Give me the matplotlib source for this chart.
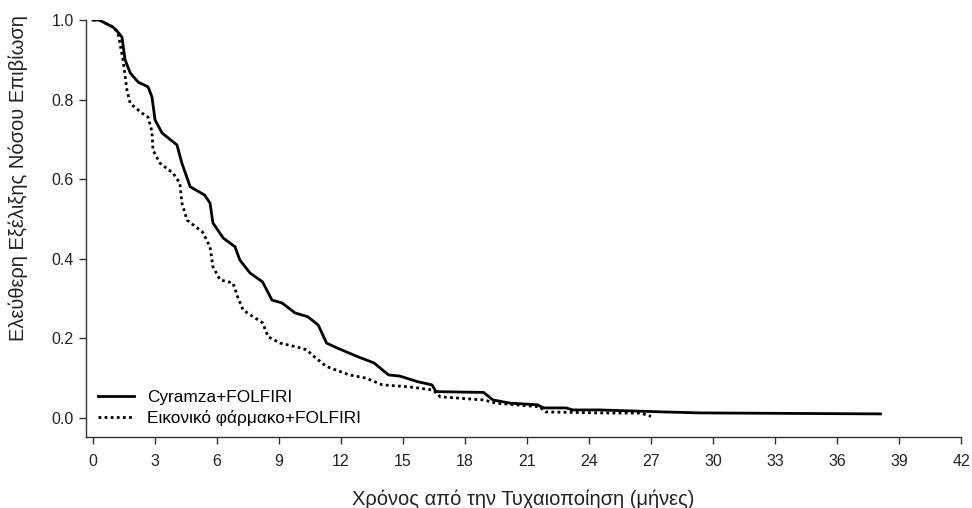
import matplotlib
matplotlib.use('Agg')
import matplotlib.pyplot as plt

plt.rcParams['font.family'] = ['Liberation Sans', 'DejaVu Sans']

# Kaplan-Meier curves (months, survival proportion)
CYR_T = [0, 0.3, 0.97, 1.2, 1.4, 1.55, 1.8, 2.18, 2.66, 2.85, 3.0, 3.34, 4.06, 4.3,
         4.7, 5.4, 5.66, 5.8, 6.3, 6.87, 7.1, 7.6, 8.2, 8.66, 9.14, 9.77, 10.4,
         10.9, 11.3, 11.8, 12.8, 13.6, 14.3, 14.85, 15.7, 16.4, 16.6, 18.9, 19.35,
         20.2, 21.5, 21.8, 22.9, 23.2, 24.5, 27.6, 29.4, 38.1]
CYR_S = [1.0, 1.0, 0.982, 0.97, 0.957, 0.90, 0.867, 0.844, 0.832, 0.807, 0.749,
         0.716, 0.686, 0.64, 0.581, 0.56, 0.54, 0.49, 0.452, 0.43, 0.397, 0.364,
         0.342, 0.296, 0.289, 0.264, 0.254, 0.233, 0.188, 0.176, 0.154, 0.138,
         0.108, 0.105, 0.091, 0.083, 0.066, 0.064, 0.045, 0.037, 0.033, 0.025,
         0.025, 0.02, 0.02, 0.015, 0.0125, 0.01]

PBO_T = [0, 0.3, 0.97, 1.2, 1.45, 1.64, 1.8, 2.37, 2.66, 2.85, 2.9, 3.24, 3.87, 4.2,
         4.3, 4.55, 5.3, 5.66, 5.8, 6.14, 6.77, 7.0, 7.26, 8.2, 8.47, 9.05, 9.87,
         10.35, 10.6, 11.3, 12.4, 13.2, 14.0, 15.3, 16.45, 16.8, 18.9, 19.5, 21.6,
         21.9, 24.5, 26.5, 27.0]
PBO_S = [1.0, 1.0, 0.982, 0.97, 0.90, 0.824, 0.79, 0.766, 0.756, 0.72, 0.673,
         0.64, 0.615, 0.59, 0.54, 0.497, 0.467, 0.43, 0.38, 0.347, 0.339, 0.304,
         0.271, 0.239, 0.204, 0.188, 0.178, 0.171, 0.158, 0.129, 0.108, 0.10,
         0.083, 0.078, 0.07, 0.053, 0.045, 0.037, 0.028, 0.015, 0.0125, 0.012,
         0.004]

LABELS = ['Cyramza+FOLFIRI', 'Εικονικό φάρμακο+FOLFIRI']
X_TICKS = list(range(0, 43, 3))
Y_TICKS = [0.0, 0.2, 0.4, 0.6, 0.8, 1.0]

fig = plt.figure(figsize=(9.72, 5.08), dpi=100)
ax = fig.add_axes([0.0885, 0.1398, 0.9002, 0.8208])

ax.plot(PBO_T, PBO_S, color='black', lw=2.0, linestyle=(0, (1, 1.2)),
        dash_capstyle='butt', label=LABELS[1], zorder=2)
ax.plot(CYR_T, CYR_S, color='black', lw=2.0, solid_joinstyle='round',
        label=LABELS[0], zorder=3)

ax.set_xlim(-0.34, 42)
ax.set_ylim(-0.048, 1.0)
ax.set_xticks(X_TICKS)
ax.set_yticks(Y_TICKS)
ax.set_yticklabels([f'{v:.1f}' for v in Y_TICKS])
for s in ['top', 'right']:
    ax.spines[s].set_visible(False)
for s in ['left', 'bottom']:
    ax.spines[s].set_linewidth(1.0)
    ax.spines[s].set_color('#333333')
ax.tick_params(direction='out', length=5, width=1.0, colors='#333333',
               labelsize=11.5, labelcolor='#222222')
ax.tick_params(axis='x', pad=7)
ax.tick_params(axis='y', pad=4)

ax.set_xlabel('Χρόνος από την Τυχαιοποίηση (μήνες)', fontsize=14.5,
              color='#222222', labelpad=15)
ax.set_ylabel('Ελεύθερη Εξέλιξης Νόσου Επιβίωση', fontsize=14.5,
              color='#222222', labelpad=17, y=0.62)

handles, labels = ax.get_legend_handles_labels()
ax.legend(handles[::-1], labels[::-1], loc='lower left', frameon=False,
          fontsize=12.4, handlelength=2.1, handletextpad=0.75, labelspacing=0.32,
          borderpad=0, borderaxespad=0, bbox_to_anchor=(0.0137, 0.026))

fig.savefig('out.png', dpi=100, facecolor='white')
